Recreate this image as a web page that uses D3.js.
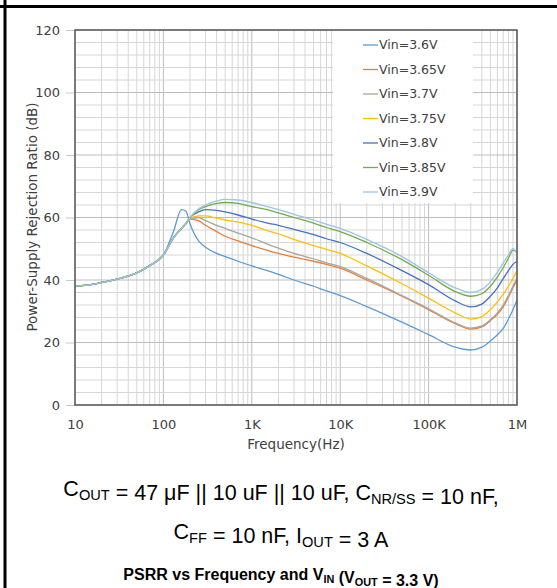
<!DOCTYPE html>
<html>
<head>
<meta charset="utf-8">
<script src="https://cdn.jsdelivr.net/npm/d3@7/dist/d3.min.js"></script>
<style>
  body { margin: 0; background: #fff; }
  svg { display: block; }
  .chart text { font-family: 'DejaVu Sans', Verdana, sans-serif; fill: #404040; }
  .caption text { font-family: 'Liberation Sans', Arial, sans-serif; fill: #000; }
</style>
</head>
<body>
<div class="chart"></div>
<script>
// frequency points (Hz) shared by every curve
const freqs = [10, 15, 20, 30, 50, 70, 100,
  130, 160, 180, 200, 250, 300, 400, 500, 700,
  1e3, 1.5e3, 2e3, 3e3, 5e3, 7e3,
  1e4, 2e4, 5e4,
  1e5, 2e5, 3e5, 4e5, 5e5, 6e5, 7e5, 8e5, 9e5,
  1e6];

// PSRR (dB)
const vin36 = [38, 38.5, 39.2, 40.3, 42.3, 44.6, 48,
  55.5, 62.5, 62, 58, 52.5, 50.5, 48.5, 47.5, 46,
  44.5, 43, 41.8, 40, 38, 36.5,
  35, 31.5, 26.5,
  22.5, 18.5, 17.6, 18.5, 20.5, 22.5, 24.5, 27.5, 30.5,
  33.5];
const vin365 = [38, 38.5, 39.2, 40.3, 42.3, 44.6, 48,
  53.5, 56.5, 58, 59.5, 59, 57.5, 55.5, 54, 52.5,
  51, 49.5, 48.5, 47.3, 46, 45,
  43.8, 40, 34.8,
  30.5, 26, 24.3, 25, 27, 29, 31.5, 34.5, 37.5,
  40];
const vin37 = [38, 38.5, 39.2, 40.3, 42.3, 44.6, 48,
  53.5, 56.5, 58, 59.5, 60, 59, 57.5, 56.5, 55,
  53.5, 51.5, 50.2, 48.5, 46.8, 45.5,
  44.3, 40.5, 35,
  30.8, 26.3, 24.6, 25.3, 27.3, 29.5, 32, 35, 38,
  40.5];
const vin375 = [38, 38.5, 39.2, 40.3, 42.3, 44.6, 48,
  53.5, 56.5, 58, 59.5, 60.5, 60.5, 59.8, 59.2, 58.5,
  57.5, 55.8, 54.8, 53, 51, 49.8,
  48.5, 44.5, 38.8,
  34.2, 29.5, 27.5, 28.3, 30.5, 33, 35.5, 38, 40.5,
  43];
const vin38 = [38, 38.5, 39.2, 40.3, 42.3, 44.6, 48,
  53.5, 56.5, 58.2, 60, 61.8, 62.5, 62.3, 61.8, 60.8,
  59.5, 58.2, 57.5, 56.2, 54.5, 53.2,
  52, 48.5, 43,
  38.5, 33.3, 31.4, 32.3, 34.8, 37.5, 40.5, 43, 45,
  46];
const vin385 = [38, 38.5, 39.2, 40.3, 42.3, 44.6, 48,
  53.5, 56.5, 58.2, 60, 62.5, 63.5, 64.5, 64.8, 64.5,
  63.5, 62.5, 61.5, 60, 58.2, 56.8,
  55.5, 52, 46.5,
  41.5, 36.3, 34.8, 35.6, 38, 41, 44, 47, 49.5,
  49];
const vin39 = [38, 38.5, 39.2, 40.3, 42.3, 44.6, 48,
  53.5, 56.5, 58.2, 60, 62.8, 64, 65.3, 65.8, 65.6,
  64.8, 63.5, 62.5, 61, 59.2, 57.8,
  56.5, 53, 47.5,
  42.3, 37.5, 36, 37, 39.5, 42.5, 45.5, 48, 50,
  48.5];

const seriesNames = ['Vin=3.6V', 'Vin=3.65V', 'Vin=3.7V', 'Vin=3.75V', 'Vin=3.8V', 'Vin=3.85V', 'Vin=3.9V'];
const seriesValues = [vin36, vin365, vin37, vin375, vin38, vin385, vin39];
const colors = ['#5b9bd5', '#ed7d31', '#a5a5a5', '#ffc000', '#4472c4', '#70ad47', '#9dc3e6'];

const yTicks = [0, 20, 40, 60, 80, 100, 120];
const xTicks = [10, 100, 1e3, 1e4, 1e5, 1e6];
const xTickLabels = ['10', '100', '1K', '10K', '100K', '1M'];

function displayChart() {
  const w = 557;
  const h = 588;
  const padding = { top: 30, right: 40, bottom: 183, left: 75 };

  const xScale = d3.scaleLog()
    .domain([10, 1e6])
    .range([padding.left, w - padding.right]);
  const yScale = d3.scaleLinear()
    .domain([0, 120])
    .range([h - padding.bottom, padding.top]);

  const svg = d3.select('.chart')
    .append('svg')
    .attr('width', w)
    .attr('height', h);

  // page frame (left and top rules)
  svg.append('line')
    .attr('x1', 5).attr('x2', 5)
    .attr('y1', 0).attr('y2', h)
    .attr('stroke', '#000')
    .attr('stroke-width', 3);
  svg.append('line')
    .attr('x1', 0).attr('x2', w)
    .attr('y1', 6.5).attr('y2', 6.5)
    .attr('stroke', '#000')
    .attr('stroke-width', 3);

  // grid
  const minorX = [];
  [10, 100, 1e3, 1e4, 1e5].forEach((d) => {
    for (let k = 2; k <= 9; k++) minorX.push(k * d);
  });
  const grid = svg.append('g').attr('class', 'grid');
  grid.selectAll('.vx')
    .data(minorX.concat(xTicks))
    .enter()
    .append('line')
    .attr('x1', (d) => xScale(d))
    .attr('x2', (d) => xScale(d))
    .attr('y1', yScale(0))
    .attr('y2', yScale(120))
    .attr('stroke', (d) => xTicks.includes(d) ? '#bdbdbd' : '#d6d6d6')
    .attr('stroke-width', 1);
  grid.selectAll('.hy')
    .data(d3.range(0, 121, 4))
    .enter()
    .append('line')
    .attr('x1', xScale(10))
    .attr('x2', xScale(1e6))
    .attr('y1', (d) => yScale(d))
    .attr('y2', (d) => yScale(d))
    .attr('stroke', (d) => d % 20 === 0 ? '#bdbdbd' : '#d6d6d6')
    .attr('stroke-width', 1);

  // axes
  const yAxis = svg.append('g')
    .attr('class', 'y-axis')
    .attr('transform', `translate(${padding.left}, 0)`)
    .call(d3.axisLeft(yScale).tickValues(yTicks).tickSize(9).tickPadding(6));
  yAxis.select('.domain').remove();
  yAxis.selectAll('line').attr('stroke', '#c8c8c8');
  yAxis.selectAll('text')
    .attr('font-size', 13)
    .attr('font-family', null)
    .attr('fill', null);

  const xAxis = svg.append('g')
    .attr('class', 'x-axis')
    .attr('transform', `translate(0, ${h - padding.bottom})`)
    .call(d3.axisBottom(xScale).tickValues(xTicks).tickFormat((d, i) => xTickLabels[i]).tickSize(0).tickPadding(15));
  xAxis.select('.domain').remove();
  xAxis.selectAll('text')
    .attr('font-size', 13)
    .attr('font-family', null)
    .attr('fill', null);

  // curves
  const line = d3.line()
    .x((d, i) => xScale(freqs[i]))
    .y((d) => yScale(d))
    .curve(d3.curveMonotoneX);

  svg.append('g')
    .attr('class', 'curves')
    .selectAll('path')
    .data(seriesValues)
    .enter()
    .append('path')
    .attr('d', line)
    .attr('fill', 'none')
    .attr('stroke', (d, i) => colors[i])
    .attr('stroke-width', 1.3);

  // plot border
  svg.append('rect')
    .attr('x', xScale(10))
    .attr('y', yScale(120))
    .attr('width', xScale(1e6) - xScale(10))
    .attr('height', yScale(0) - yScale(120))
    .attr('fill', 'none')
    .attr('stroke', '#595959')
    .attr('stroke-width', 1.5);

  // legend
  const legend = svg.append('g').attr('class', 'legend');
  legend.append('rect')
    .attr('x', 333)
    .attr('y', 31)
    .attr('width', 140)
    .attr('height', 172)
    .attr('fill', '#fff');
  const item = legend.selectAll('.item')
    .data(seriesNames)
    .enter()
    .append('g')
    .attr('transform', (d, i) => `translate(363, ${45 + i * 24.5})`);
  item.append('line')
    .attr('x1', 0).attr('x2', 15)
    .attr('y1', 0).attr('y2', 0)
    .attr('stroke', (d, i) => colors[i])
    .attr('stroke-width', 1.3);
  item.append('text')
    .attr('x', 16)
    .attr('dy', '0.35em')
    .attr('font-size', 12.5)
    .text((d) => d);

  // axis titles
  svg.append('text')
    .attr('transform', 'rotate(-90)')
    .attr('x', -217)
    .attr('y', 37)
    .attr('text-anchor', 'middle')
    .attr('font-size', 13.5)
    .text('Power-Supply Rejection Ratio (dB)');
  svg.append('text')
    .attr('x', (xScale(10) + xScale(1e6)) / 2)
    .attr('y', 449)
    .attr('text-anchor', 'middle')
    .attr('font-size', 13.5)
    .text('Frequency(Hz)');

  // caption below the chart
  const cap = svg.append('g').attr('class', 'caption');
  const addLine = (parts, y, size, weight) => {
    const t = cap.append('text')
      .attr('x', 281)
      .attr('y', y)
      .attr('text-anchor', 'middle')
      .attr('font-size', size)
      .attr('font-weight', weight);
    parts.forEach((p) => {
      if (p.sub) {
        t.append('tspan')
          .attr('font-size', size * 0.68)
          .attr('dy', size * 0.18)
          .text(p.sub);
        t.append('tspan').attr('dy', -size * 0.18).text('');
      } else {
        t.append('tspan').text(p.text);
      }
    });
  };
  addLine([{ text: 'C' }, { sub: 'OUT' }, { text: ' = 47 \u03bcF || 10 uF || 10 uF, C' }, { sub: 'NR/SS' }, { text: ' = 10 nF,' }], 496, 21.5, 'normal');
  addLine([{ text: 'C' }, { sub: 'FF' }, { text: ' = 10 nF, I' }, { sub: 'OUT' }, { text: ' = 3 A' }], 539, 21.5, 'normal');
  addLine([{ text: 'PSRR vs Frequency and V' }, { sub: 'IN' }, { text: ' (V' }, { sub: 'OUT' }, { text: ' = 3.3 V)' }], 580, 16, 'bold');
}

displayChart();
</script>
</body>
</html>
